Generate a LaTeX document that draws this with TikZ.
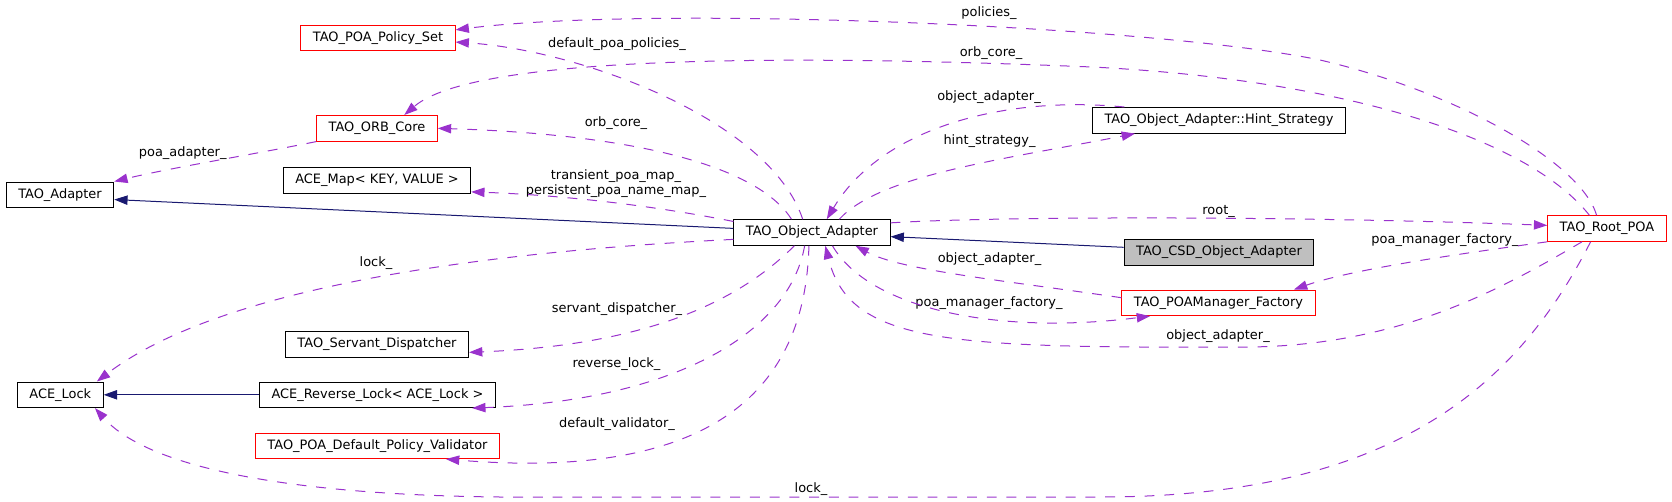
\documentclass[tikz,border=0pt]{standalone}
\usepackage{fontspec}
\setmainfont{DejaVu Sans}
\usetikzlibrary{arrows.meta}
\definecolor{edgepurple}{HTML}{9A32CD}
\definecolor{inhnavy}{HTML}{191970}
\definecolor{boxgray}{HTML}{BFBFBF}
\begin{document}
\begin{tikzpicture}[x=0.75pt,y=-0.75pt,
    font=\fontsize{9.7pt}{11.25pt}\selectfont,
    cls/.style={rectangle,draw,line width=0.75pt,minimum height=19.2pt,inner xsep=9pt,inner ysep=0pt},
    clsred/.style={cls,draw=red},
    clsgray/.style={cls,fill=boxgray},
    lbl/.style={inner sep=0pt,align=center},
    member/.style={edgepurple,line width=0.75pt,dash pattern=on 7.4pt off 7.4pt,-{Triangle[length=10pt,width=7pt]}},
    inherit/.style={inhnavy,line width=0.75pt,-{Triangle[length=10pt,width=7pt]}}]
    \useasboundingbox (0,0) rectangle (1672,501);
    \node[clsred] at (378,38) (n1) {TAO\_POA\_Policy\_Set};
    \node[clsred] at (377,128.3) (n2) {TAO\_ORB\_Core};
    \node[cls] at (60,194.8) (n3) {TAO\_Adapter};
    \node[cls] at (377,180.3) (n4) {ACE\_Map< KEY, VALUE >};
    \node[cls] at (60.3,394.8) (n5) {ACE\_Lock};
    \node[cls] at (377,344.3) (n6) {TAO\_Servant\_Dispatcher};
    \node[cls] at (377.5,394.8) (n7) {ACE\_Reverse\_Lock< ACE\_Lock >};
    \node[clsred] at (377.5,445.8) (n8) {TAO\_POA\_Default\_Policy\_Validator};
    \node[cls] at (812,232.5) (n9) {TAO\_Object\_Adapter};
    \node[cls] at (1219,120.3) (n10) {TAO\_Object\_Adapter::Hint\_Strategy};
    \node[clsred] at (1607,228.5) (n11) {TAO\_Root\_POA};
    \node[clsgray] at (1219,252.3) (n12) {TAO\_CSD\_Object\_Adapter};
    \node[clsred] at (1218.5,302.8) (n13) {TAO\_POAManager\_Factory};
    \node[lbl] at (989,13.3) (l1) {policies\_};
    \node[lbl] at (617,44.3) (l2) {default\_poa\_policies\_};
    \node[lbl] at (991,53.3) (l3) {orb\_core\_};
    \node[lbl] at (616,122.7) (l4) {orb\_core\_};
    \node[lbl] at (182.7,153.3) (l5) {poa\_adapter\_};
    \node[lbl] at (616,183.2) (l6) {transient\_poa\_map\_\\persistent\_poa\_name\_map\_};
    \node[lbl] at (989,97.3) (l7) {object\_adapter\_};
    \node[lbl] at (989.5,141) (l8) {hint\_strategy\_};
    \node[lbl] at (1218.6,211.7) (l9) {root\_};
    \node[lbl] at (376,263.3) (l10) {lock\_};
    \node[lbl] at (617,308.7) (l11) {servant\_dispatcher\_};
    \node[lbl] at (616.5,364) (l12) {reverse\_lock\_};
    \node[lbl] at (617,423.7) (l13) {default\_validator\_};
    \node[lbl] at (811,488.7) (l14) {lock\_};
    \node[lbl] at (989.5,259) (l15) {object\_adapter\_};
    \node[lbl] at (989,303) (l16) {poa\_manager\_factory\_};
    \node[lbl] at (1218,336) (l17) {object\_adapter\_};
    \node[lbl] at (1445,240) (l18) {poa\_manager\_factory\_};
    \draw[inherit] (n9.177)--(n3.355);
    \draw[inherit] (n12.177)--(n9.357);
    \draw[inherit] (n7.west)--(n5.east);
    \draw[member] (n11.128) .. controls (1580,160) and (1450,90) .. (1320,60) .. controls (1150,25) and (650,5) .. (n1.6);
    \draw[member] (n9.125) .. controls (770,120) and (580,50) .. (n1.357);
    \draw[member] (n11.143) .. controls (1530,140) and (1350,80) .. (1092,67) .. controls (850,57) and (480,50) .. (n2.26);
    \draw[member] (n9.147) .. controls (760,170) and (650,135) .. (n2.east);
    \draw[member] (n2.south west) .. controls (250,155) and (170,168) .. (n3.north east);
    \draw[member] (n9.172) .. controls (650,205) and (560,195) .. (n4.353);
    \draw[member] (n10.172) .. controls (1000,95) and (880,130) .. (n9.42);
    \draw[member] (n9.26) .. controls (880,175) and (1000,160) .. (n10.189);
    \draw[member] (n9.7) .. controls (1000,216) and (1300,216) .. (n11.177);
    \draw[member] (n9.185) .. controls (520,250) and (230,280) .. (n5.20);
    \draw[member] (n9.217) .. controls (740,300) and (650,345) .. (n6.355);
    \draw[member] (n9.241) .. controls (790,330) and (680,400) .. (n7.352);
    \draw[member] (n9.257) .. controls (805,400) and (700,480) .. (n8.349);
    \draw[member] (n11.219) .. controls (1520,380) and (1400,497) .. (1100,497) -- (500,497) .. controls (300,495) and (150,470) .. (n5.339);
    \draw[member] (n13.177) .. controls (1000,280) and (900,270) .. (n9.343);
    \draw[member] (n9.327) .. controls (870,310) and (1000,335) .. (n13.191);
    \draw[member] (n11.208) .. controls (1500,290) and (1400,345) .. (1250,347) .. controls (950,348) and (850,345) .. (n9.315);
    \draw[member] (n11.south west) .. controls (1450,255) and (1350,270) .. (n13.10);
\end{tikzpicture}
\end{document}
